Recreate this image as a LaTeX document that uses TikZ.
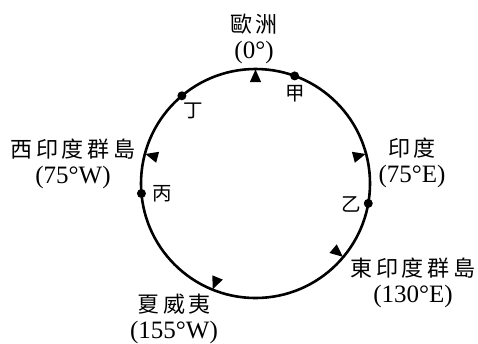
\documentclass[tikz,border=0pt]{standalone}
\usepackage{fontspec}
\setmainfont{Liberation Serif}
\newfontfamily\cjk[LetterSpace=18]{Noto Sans CJK TC}
\newfontfamily\cjkmark{Noto Sans CJK TC}
\usetikzlibrary{calc}

\begin{document}
\begin{tikzpicture}[x=1pt, y=-1pt,
    place/.style={align=center, inner sep=0pt, font=\fontsize{25}{26}\selectfont},
    letter/.style={inner sep=0pt, font=\cjkmark\fontsize{19.5}{20}\selectfont},
    dot/.style={circle, fill=black, inner sep=0pt, minimum size=9pt},
    ring/.style={line width=2.6pt}
  ]
    \useasboundingbox (0,0) rectangle (478,343);
    % Circle of longitudes
    \coordinate (c) at (255.5,183.5);
    \draw[ring] (c) circle (114.5);
    % Pointers
    \foreach \ang in {-90,-15,40,112,195}
      \fill ($(c)+(\ang:114)$) -- ($(c)+(\ang+3.2:101.5)$) -- ($(c)+(\ang-3.2:101.5)$) -- cycle;
    % Points on the circle
    \node[dot] (jia)  at ($(c)+(-70:114.5)$) {};
    \node[dot] (yi)   at ($(c)+(10:114.5)$) {};
    \node[dot] (bing) at ($(c)+(175:114.5)$) {};
    \node[dot] (ding) at ($(c)+(-130:114.5)$) {};
    \node[letter] (jialbl)  at (295,94)  {甲};
    \node[letter] (yilbl)   at (351,204) {乙};
    \node[letter] (binglbl) at (162,194) {丙};
    \node[letter] (dinglbl) at (193,111) {丁};
    % Place names
    \node[place] (europe) at (254,38.5) {{\cjk\fontsize{22}{26}\selectfont 歐洲}\\(0°)};
    \node[place] (westindies) at (73,163.5) {{\cjk\fontsize{22}{26}\selectfont 西印度群島}\\(75°W)};
    \node[place] (india) at (412,162.5) {{\cjk\fontsize{22}{26}\selectfont 印度}\\(75°E)};
    \node[place] (eastindies) at (413,282.5) {{\cjk\fontsize{22}{26}\selectfont 東印度群島}\\(130°E)};
    \node[place] (hawaii) at (174,319) {{\cjk\fontsize{22}{26}\selectfont 夏威夷}\\(155°W)};
\end{tikzpicture}
\end{document}
